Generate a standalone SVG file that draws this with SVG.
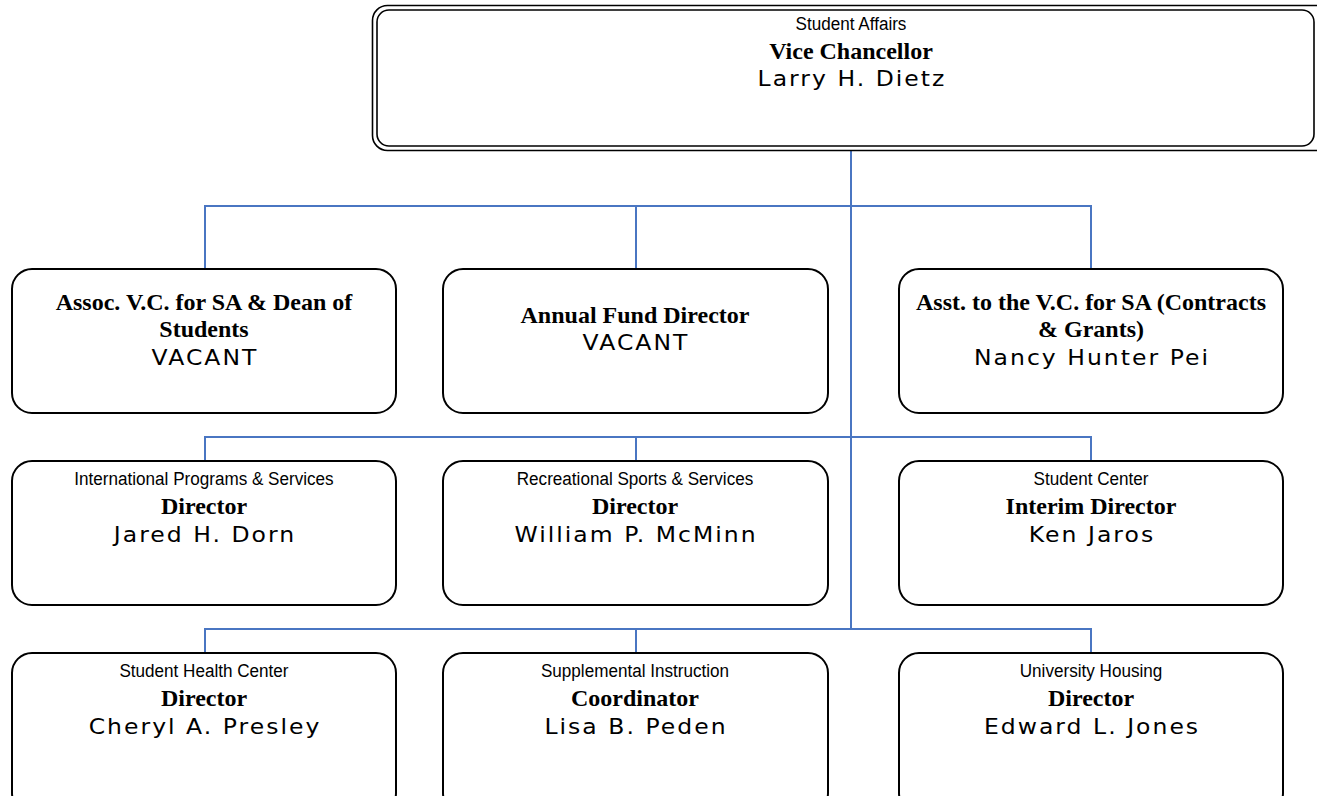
<svg xmlns="http://www.w3.org/2000/svg" width="1317" height="796" viewBox="0 0 1317 796">
<style>
.box{fill:#fff;stroke:#000;stroke-width:2}
.top{fill:none;stroke:#000;stroke-width:1.6}
.conn{fill:none;stroke:#4a76c2;stroke-width:2}
.sub{font-family:"Liberation Sans",Arial,sans-serif;font-size:19px;text-anchor:middle;fill:#000}
.ttl{font-family:"Liberation Serif","Times New Roman",serif;font-weight:bold;font-size:24px;text-anchor:middle;fill:#000}
.nm{font-family:"DejaVu Sans",sans-serif;font-size:21px;letter-spacing:1.8px;text-anchor:middle;fill:#000}
</style>
<rect width="1317" height="796" fill="#fff"/>
<g id="connectors">
<path class="conn" d="M851,150 V629"/>
<path class="conn" d="M205,269 V206 H1091 V269 M636,206 V269"/>
<path class="conn" d="M205,461 V437 H1091 V461 M636,437 V461"/>
<path class="conn" d="M205,653 V629 H1091 V653 M636,629 V653"/>
</g>
<g id="vc">
<rect class="top" x="372.5" y="5.5" width="960" height="145" rx="15"/>
<rect class="top" x="377" y="10" width="937" height="136" rx="12"/>
<text class="sub" transform="translate(851,30) scale(0.9,1)">Student Affairs</text>
<text class="ttl" x="851" y="59">Vice Chancellor</text>
<text class="nm" transform="translate(852,86) scale(1.12,1)">Larry H. Dietz</text>
</g>
<g id="assoc">
<rect class="box" x="12" y="269" width="384" height="144" rx="20"/>
<text class="ttl" x="204" y="310">Assoc. V.C. for SA &amp; Dean of</text>
<text class="ttl" x="204" y="337">Students</text>
<text class="nm" transform="translate(205,365) scale(1.12,1)">VACANT</text>
</g>
<g id="fund">
<rect class="box" x="443" y="269" width="385" height="144" rx="20"/>
<text class="ttl" x="635" y="323">Annual Fund Director</text>
<text class="nm" transform="translate(636,350) scale(1.12,1)">VACANT</text>
</g>
<g id="asst">
<rect class="box" x="899" y="269" width="384" height="144" rx="20"/>
<text class="ttl" x="1091" y="310">Asst. to the V.C. for SA (Contracts</text>
<text class="ttl" x="1091" y="337">&amp; Grants)</text>
<text class="nm" transform="translate(1092,365) scale(1.12,1)">Nancy Hunter Pei</text>
</g>
<g id="intl">
<rect class="box" x="12" y="461" width="384" height="144" rx="20"/>
<text class="sub" transform="translate(204,485) scale(0.9,1)">International Programs &amp; Services</text>
<text class="ttl" x="204" y="514">Director</text>
<text class="nm" transform="translate(205,542) scale(1.12,1)">Jared H. Dorn</text>
</g>
<g id="rec">
<rect class="box" x="443" y="461" width="385" height="144" rx="20"/>
<text class="sub" transform="translate(635,485) scale(0.9,1)">Recreational Sports &amp; Services</text>
<text class="ttl" x="635" y="514">Director</text>
<text class="nm" transform="translate(636,542) scale(1.12,1)">William P. McMinn</text>
</g>
<g id="center">
<rect class="box" x="899" y="461" width="384" height="144" rx="20"/>
<text class="sub" transform="translate(1091,485) scale(0.9,1)">Student Center</text>
<text class="ttl" x="1091" y="514">Interim Director</text>
<text class="nm" transform="translate(1092,542) scale(1.12,1)">Ken Jaros</text>
</g>
<g id="health">
<rect class="box" x="12" y="653" width="384" height="160" rx="20"/>
<text class="sub" transform="translate(204,677) scale(0.9,1)">Student Health Center</text>
<text class="ttl" x="204" y="706">Director</text>
<text class="nm" transform="translate(205,734) scale(1.12,1)">Cheryl A. Presley</text>
</g>
<g id="si">
<rect class="box" x="443" y="653" width="385" height="160" rx="20"/>
<text class="sub" transform="translate(635,677) scale(0.9,1)">Supplemental Instruction</text>
<text class="ttl" x="635" y="706">Coordinator</text>
<text class="nm" transform="translate(636,734) scale(1.12,1)">Lisa B. Peden</text>
</g>
<g id="housing">
<rect class="box" x="899" y="653" width="384" height="160" rx="20"/>
<text class="sub" transform="translate(1091,677) scale(0.9,1)">University Housing</text>
<text class="ttl" x="1091" y="706">Director</text>
<text class="nm" transform="translate(1092,734) scale(1.12,1)">Edward L. Jones</text>
</g>
</svg>
